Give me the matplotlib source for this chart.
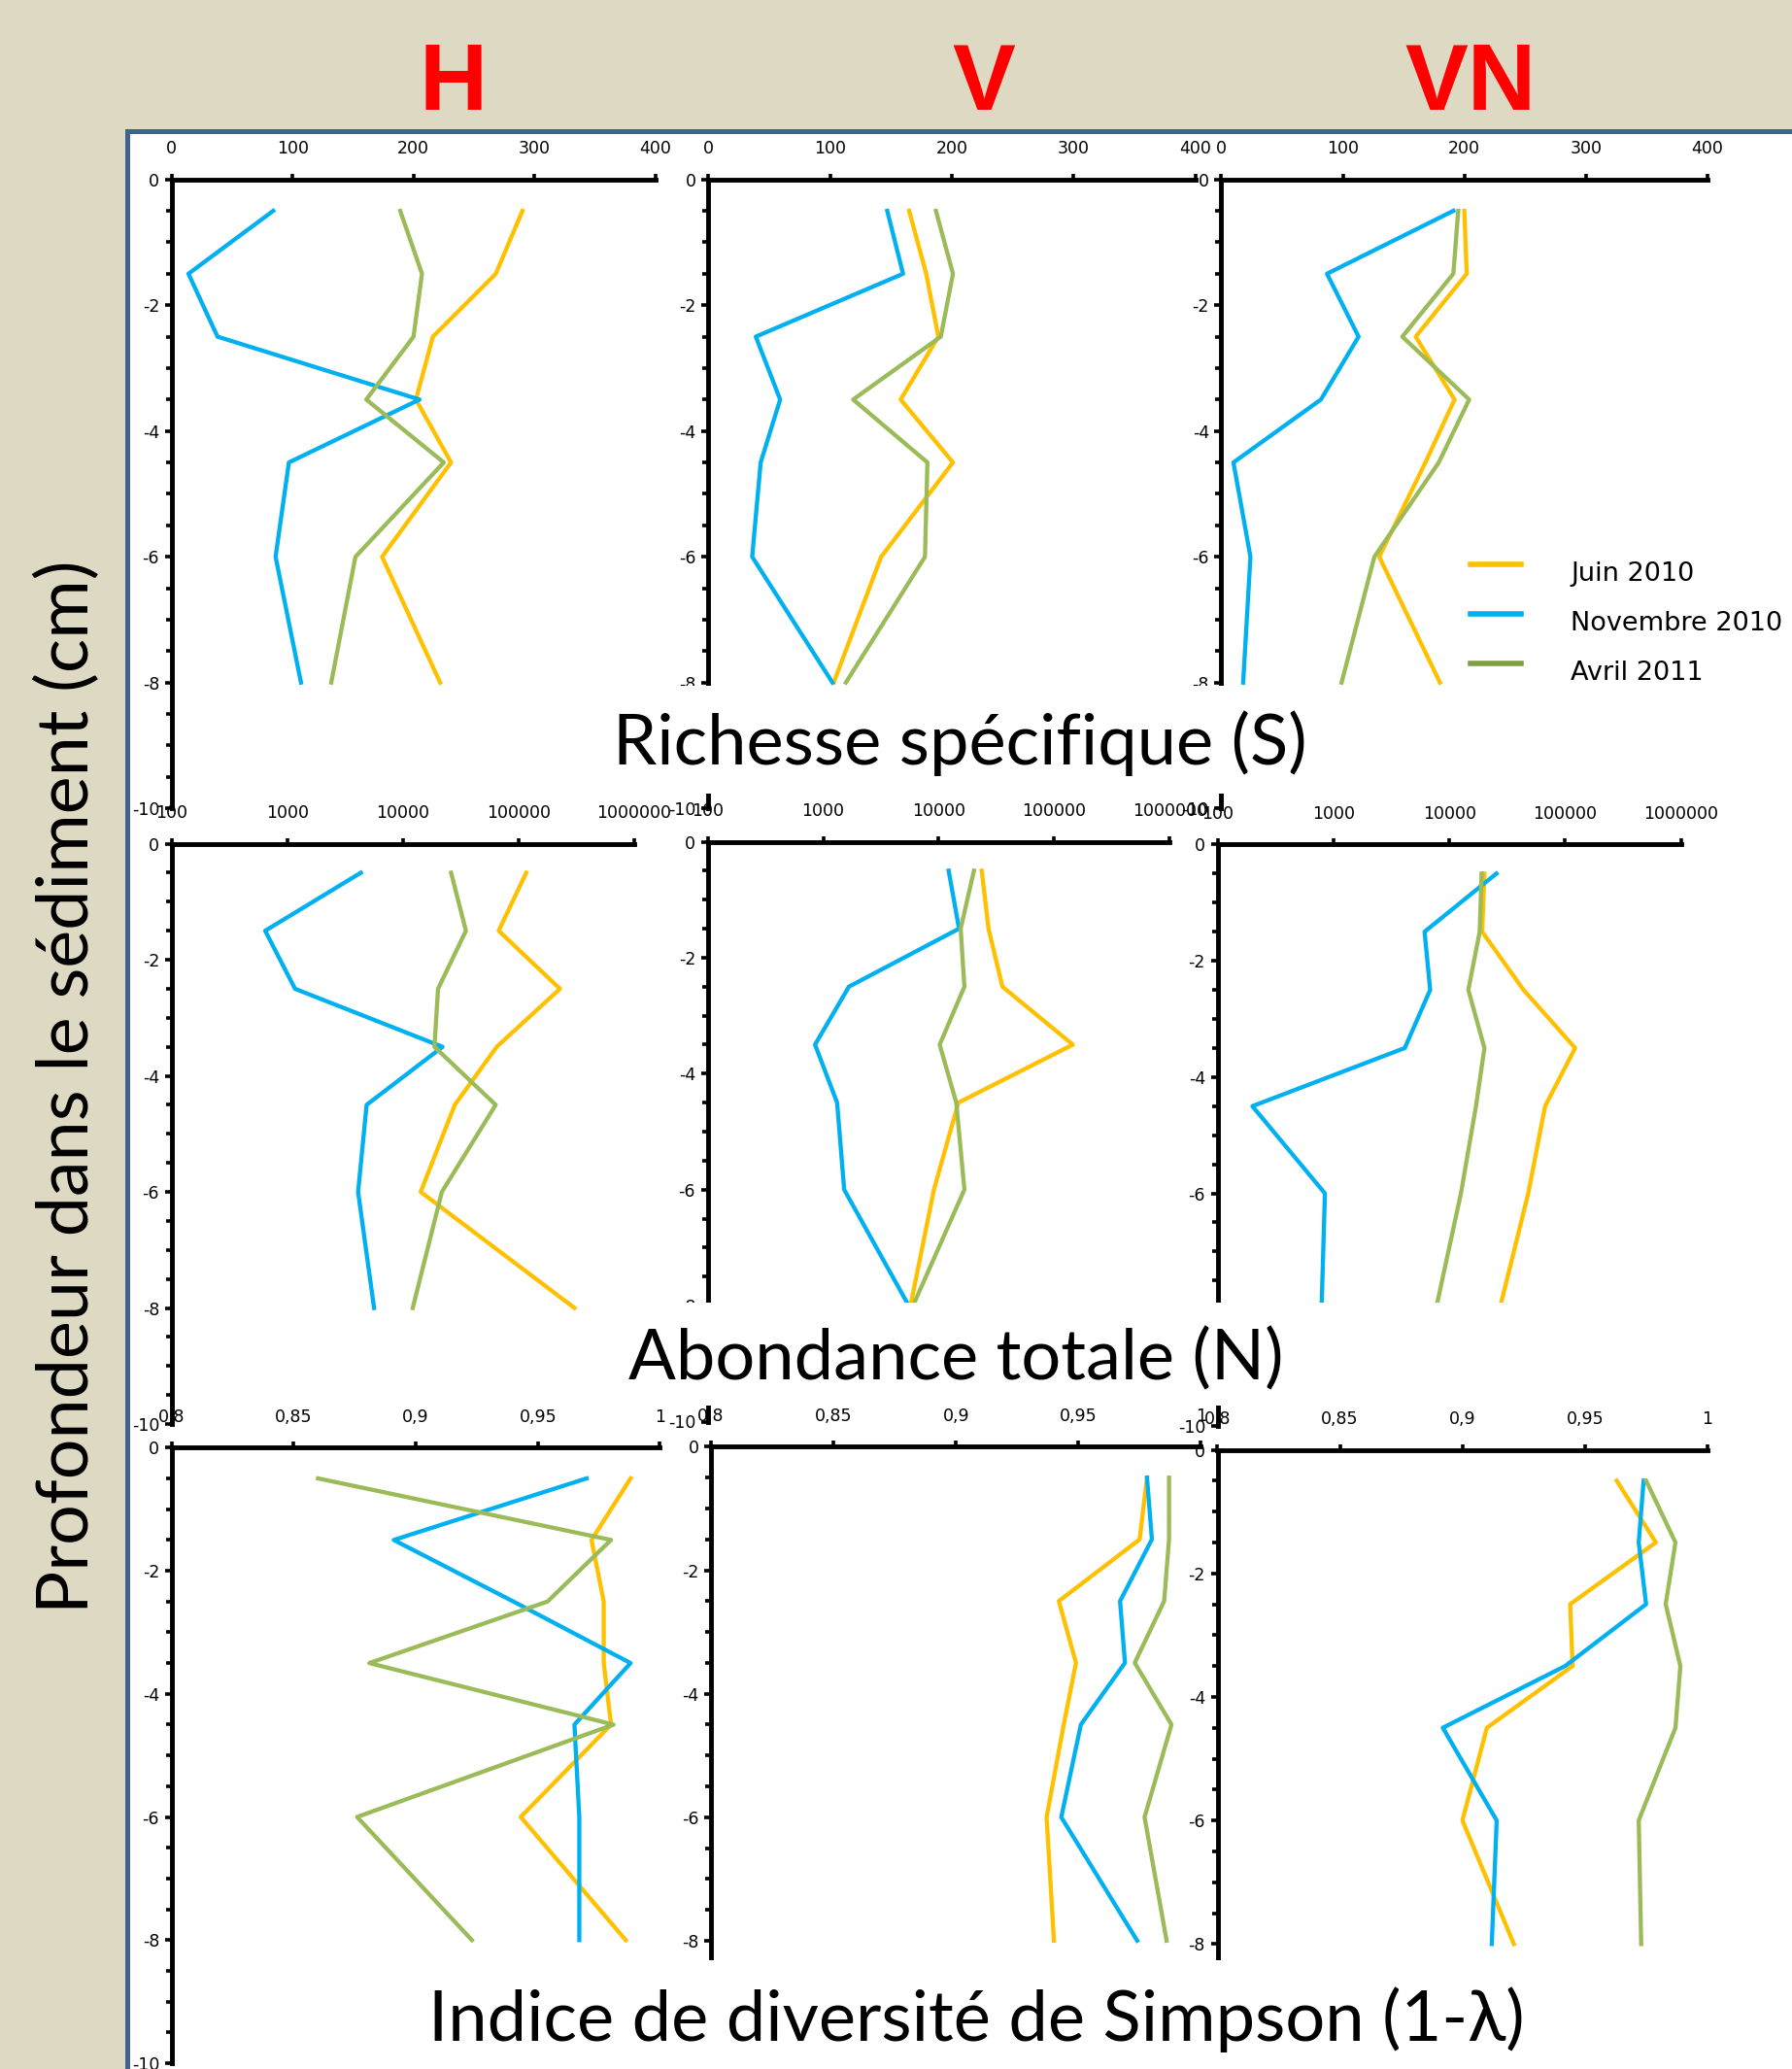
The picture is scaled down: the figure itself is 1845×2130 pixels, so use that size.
import matplotlib
matplotlib.use("Agg")
import matplotlib.pyplot as plt
from matplotlib.patches import Rectangle
from matplotlib.lines import Line2D
from matplotlib.ticker import FixedLocator, MultipleLocator, FuncFormatter, NullLocator

plt.rcParams['axes.unicode_minus'] = False
plt.rcParams['font.family'] = ['DejaVu Sans']

W, H = 1845, 2130

depth = [-0.5, -1.5, -2.5, -3.5, -4.5, -6, -8]
sites = ["H", "V", "VN"]
periods = ["Juin 2010", "Novembre 2010", "Avril 2011"]
colors = ["#FFC000", "#00B0F0", "#9BBB59"]
legend_colors = ["#FFC000", "#00B0F0", "#7F9F45"]
row_titles = ["Richesse spécifique (S)", "Abondance totale (N)",
              "Indice de diversité de Simpson (1-λ)"]
ylabel = "Profondeur dans le sédiment (cm)"

# Richesse spécifique (S)
rich_H_juin = [290, 268, 216, 202, 231, 174, 222]
rich_H_nov = [84, 14, 38, 205, 97, 86, 107]
rich_H_avr = [189, 207, 200, 161, 225, 152, 132]
rich_V_juin = [165, 179, 189, 158, 201, 142, 103]
rich_V_nov = [147, 160, 39, 59, 43, 36, 102]
rich_V_avr = [187, 201, 191, 119, 180, 178, 113]
rich_VN_juin = [200, 202, 160, 192, 168, 130, 180]
rich_VN_nov = [191, 87, 113, 82, 10, 24, 18]
rich_VN_avr = [195, 191, 149, 204, 179, 126, 99]

# Abondance totale (N)
abon_H_juin = [117000, 67600, 229000, 65000, 28200, 14300, 306000]
abon_H_nov = [4340, 646, 1170, 22100, 4870, 4110, 5650]
abon_H_avr = [26200, 35200, 20200, 18800, 63700, 21800, 12200]
abon_V_juin = [23600, 27000, 35600, 145000, 14800, 9100, 5700]
abon_V_nov = [12200, 15000, 1670, 850, 1320, 1520, 5500]
abon_V_avr = [20200, 15500, 16700, 10200, 14200, 16700, 6000]
abon_VN_juin = [20100, 19200, 43700, 122000, 67100, 48000, 27100]
abon_VN_nov = [25500, 6120, 6840, 4130, 200, 845, 790]
abon_VN_avr = [19000, 18300, 14600, 20100, 17000, 12600, 7650]

# Indice de Simpson (1-lambda)
simp_H_juin = [0.988, 0.972, 0.977, 0.977, 0.980, 0.943, 0.986]
simp_H_nov = [0.970, 0.891, 0.940, 0.988, 0.965, 0.967, 0.967]
simp_H_avr = [0.860, 0.980, 0.954, 0.881, 0.981, 0.876, 0.923]
simp_V_juin = [0.978, 0.975, 0.942, 0.949, 0.944, 0.937, 0.940]
simp_V_nov = [0.978, 0.980, 0.967, 0.969, 0.951, 0.943, 0.974]
simp_V_avr = [0.987, 0.987, 0.985, 0.973, 0.988, 0.977, 0.986]
simp_VN_juin = [0.963, 0.979, 0.944, 0.945, 0.910, 0.900, 0.921]
simp_VN_nov = [0.974, 0.972, 0.975, 0.942, 0.892, 0.914, 0.912]
simp_VN_avr = [0.975, 0.987, 0.983, 0.989, 0.987, 0.972, 0.973]

rows = [
    [[rich_H_juin, rich_H_nov, rich_H_avr],
     [rich_V_juin, rich_V_nov, rich_V_avr],
     [rich_VN_juin, rich_VN_nov, rich_VN_avr]],
    [[abon_H_juin, abon_H_nov, abon_H_avr],
     [abon_V_juin, abon_V_nov, abon_V_avr],
     [abon_VN_juin, abon_VN_nov, abon_VN_avr]],
    [[simp_H_juin, simp_H_nov, simp_H_avr],
     [simp_V_juin, simp_V_nov, simp_V_avr],
     [simp_VN_juin, simp_VN_nov, simp_VN_avr]],
]

# panel boxes in pixels: (left, right, top(y=0), bottom(y=-10))
boxes = [
    [(176.6, 674.9, 184.7, 832.2), (729.3, 1230.5, 184.7, 832.2), (1257.4, 1757.8, 184.7, 832.2)],
    [(176.6, 652.7, 868.6, 1466.0), (728.6, 1204.3, 866.5, 1463.5), (1253.5, 1730.8, 869.4, 1468.0)],
    [(176.6, 679.4, 1490.3, 2124.0), (732.1, 1236.4, 1489.4, 2125.0), (1253.5, 1757.8, 1492.5, 2128.5)],
]


def rect(x0, x1, yt, yb):
    return [x0 / W, 1 - yb / H, (x1 - x0) / W, (yb - yt) / H]


fig = plt.figure(figsize=(W / 100, H / 100), dpi=100, facecolor="#DDD9C3")

# white board with blue frame
fig.add_artist(Rectangle((129 / W, 0), 1, 1 - 133 / H, transform=fig.transFigure,
                         facecolor="#3F6290", edgecolor="none", zorder=-2))
fig.add_artist(Rectangle((133.5 / W, 0), 1, 1 - 137.5 / H, transform=fig.transFigure,
                         facecolor="white", edgecolor="none", zorder=-1))

for r in range(3):
    for c in range(3):
        ax = fig.add_axes(rect(*boxes[r][c]))
        ax.set_facecolor("none")
        for k in range(3):
            ax.plot(rows[r][c][k], depth, color=colors[k], lw=3.1)
        ax.set_ylim(-10, 0)
        if r == 0:
            ax.set_xlim(0, 400)
            ax.xaxis.set_major_locator(MultipleLocator(100))
        elif r == 1:
            ax.set_xscale("log")
            ax.set_xlim(100, 1e6)
            ax.xaxis.set_major_locator(FixedLocator([1e2, 1e3, 1e4, 1e5, 1e6]))
            ax.xaxis.set_minor_locator(NullLocator())
            ax.xaxis.set_major_formatter(FuncFormatter(lambda v, p: f"{int(round(v))}"))
        else:
            ax.set_xlim(0.8, 1)
            ax.xaxis.set_major_locator(FixedLocator([0.8, 0.85, 0.9, 0.95, 1.0]))
            ax.xaxis.set_major_formatter(FuncFormatter(lambda v, p: f"{v:g}".replace(".", ",")))
        ax.yaxis.set_major_locator(MultipleLocator(2))
        ax.yaxis.set_minor_locator(MultipleLocator(0.5))
        ax.yaxis.set_major_formatter(FuncFormatter(lambda v, p: f"{int(round(v))}"))
        ax.xaxis.tick_top()
        for s in ["right", "bottom"]:
            ax.spines[s].set_visible(False)
        for s in ["left", "top"]:
            ax.spines[s].set_linewidth(3.5)
        ax.tick_params(axis="y", which="major", direction="out", length=5, width=2.6,
                       labelsize=12.5, pad=4)
        ax.tick_params(axis="y", which="minor", direction="out", length=4, width=2.6)
        ax.tick_params(axis="x", which="major", direction="out", length=4, width=2.6,
                       labelsize=12.5, pad=12)

# white boxes holding the row titles (they hide the bottom of the panels)
title_boxes = [(610, 706, 817), (610, 1341, 1447), (420, 2018, 2130)]
title_pos = [(988, 765), (984, 1399), (1005, 2079)]
for (xl, yt, yb), (tx, ty), txt in zip(title_boxes, title_pos, row_titles):
    fig.add_artist(Rectangle((xl / W, 1 - yb / H), 1, (yb - yt) / H,
                             transform=fig.transFigure, facecolor="white",
                             edgecolor="none", zorder=5))
    fig.text(tx / W, 1 - ty / H, txt, ha="center", va="center", fontsize=52,
             family=["Lato", "DejaVu Sans"], zorder=6)

# site letters
for site, xc in zip(sites, [467, 1013, 1514]):
    fig.text(xc / W, 1 - 88 / H, site, ha="center", va="center", fontsize=70,
             fontweight="bold", color="#FF0000", family=["Liberation Sans", "DejaVu Sans"])

fig.text(70.6 / W, 1 - 1119 / H, ylabel, rotation=90, ha="center", va="center",
         fontsize=53, family=["Lato", "DejaVu Sans"])

# legend
for k, (lab, lc) in enumerate(zip(periods, legend_colors)):
    yl = [581, 632, 683][k]
    fig.add_artist(Line2D([1514 / W, 1566 / W], [1 - yl / H, 1 - yl / H],
                          transform=fig.transFigure, color=lc, lw=4, zorder=6))
    fig.text(1617 / W, 1 - (yl + 10) / H, lab, ha="left", va="center",
             fontsize=19.5, zorder=6)

fig.savefig("out.png", dpi=100, facecolor=fig.get_facecolor())
